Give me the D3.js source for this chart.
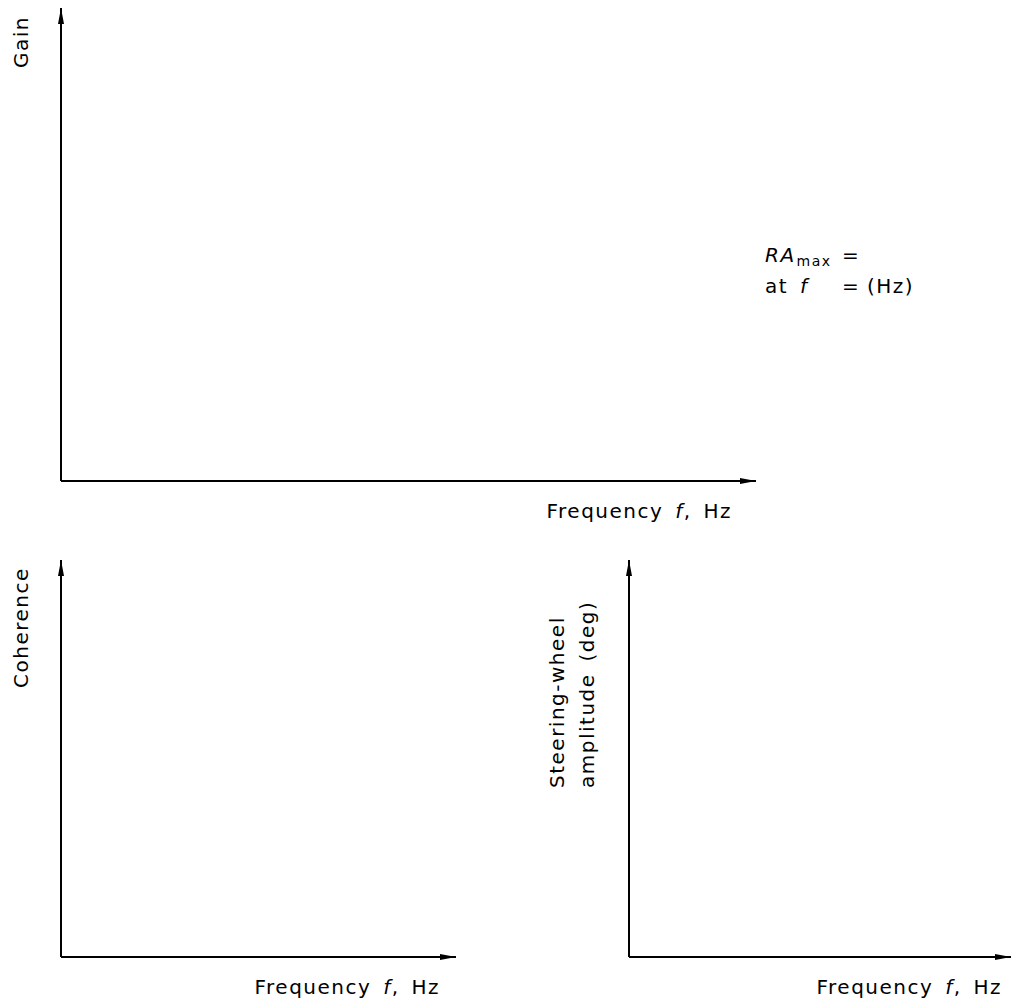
<!DOCTYPE html>
<html>
<head>
<meta charset="utf-8">
<script src="https://cdn.jsdelivr.net/npm/d3@7"></script>
<style>
  body { margin: 0; background: #fff; }
  svg text { font-family: "DejaVu Sans", sans-serif; font-size: 20px; letter-spacing: 1.5px; word-spacing: 4px; fill: #000; }
</style>
</head>
<body>
<div id="chart"></div>
<script>
// panel frames (empty axes, no data plotted)
const panelNames = ['gain', 'coherence', 'steering'];
const panelX0 = [61, 61, 629];     // y-axis position
const panelX1 = [756, 456, 1011];  // x-axis arrow tip
const panelY0 = [481, 957, 957];   // x-axis position
const panelY1 = [8, 560, 560];     // y-axis arrow tip
const yLabels = [['Gain'], ['Coherence'], ['Steering-wheel', 'amplitude (deg)']];
const xLabel = 'Frequency ';

const W = 1016, H = 1006;
const svg = d3.select('#chart').append('svg').attr('width', W).attr('height', H);

const defs = svg.append('defs');
defs.append('marker')
  .attr('id', 'arrow')
  .attr('viewBox', '0 0 16 6')
  .attr('refX', 16).attr('refY', 3)
  .attr('markerWidth', 16).attr('markerHeight', 6)
  .attr('markerUnits', 'userSpaceOnUse')
  .attr('orient', 'auto')
  .append('path').attr('d', 'M0,0 L16,3 L0,6 Z').attr('fill', '#000');

panelNames.forEach((name, i) => {
  const x = d3.scaleLinear().domain([0, 1]).range([panelX0[i], panelX1[i]]);
  const y = d3.scaleLinear().domain([0, 1]).range([panelY0[i], panelY1[i]]);
  const g = svg.append('g').attr('class', 'panel-' + name);

  // x axis
  g.append('line')
    .attr('x1', x(0)).attr('x2', x(1))
    .attr('y1', y(0)).attr('y2', y(0))
    .attr('stroke', '#000').attr('stroke-width', 2)
    .attr('marker-end', 'url(#arrow)');
  // y axis
  g.append('line')
    .attr('x1', x(0)).attr('x2', x(0))
    .attr('y1', y(0)).attr('y2', y(1))
    .attr('stroke', '#000').attr('stroke-width', 2)
    .attr('marker-end', 'url(#arrow)');

  // x label
  const xl = g.append('text')
    .attr('x', x(1) - [24, 16, 9][i])
    .attr('y', y(0) + 37)
    .attr('text-anchor', 'end');
  xl.append('tspan').text(xLabel);
  xl.append('tspan').attr('font-style', 'italic').text('f');
  xl.append('tspan').text(', Hz');

  // y label(s), rotated
  const lines = yLabels[i];
  const labelX = [28, 28, 564][i];
  const labelBottom = [68, 688, 788][i];
  lines.forEach((t, k) => {
    g.append('text')
      .attr('transform', `translate(${labelX + k * 30},${labelBottom}) rotate(-90)`)
      .attr('text-anchor', 'start')
      .text(t);
  });
});

// annotation for RA max
const note = svg.append('g').attr('class', 'note');
const t1 = note.append('text').attr('x', 765).attr('y', 262);
t1.append('tspan').attr('font-style', 'italic').text('RA');
t1.append('tspan').attr('font-size', 14).attr('dx', 1).attr('dy', 4).text('max');
note.append('text').attr('x', 842).attr('y', 262).text('=');
const t2 = note.append('text').attr('x', 765).attr('y', 293);
t2.append('tspan').text('at ');
t2.append('tspan').attr('font-style', 'italic').text('f');
note.append('text').attr('x', 842).attr('y', 293).text('=');
note.append('text').attr('x', 867).attr('y', 293).text('(Hz)');
</script>
</body>
</html>
